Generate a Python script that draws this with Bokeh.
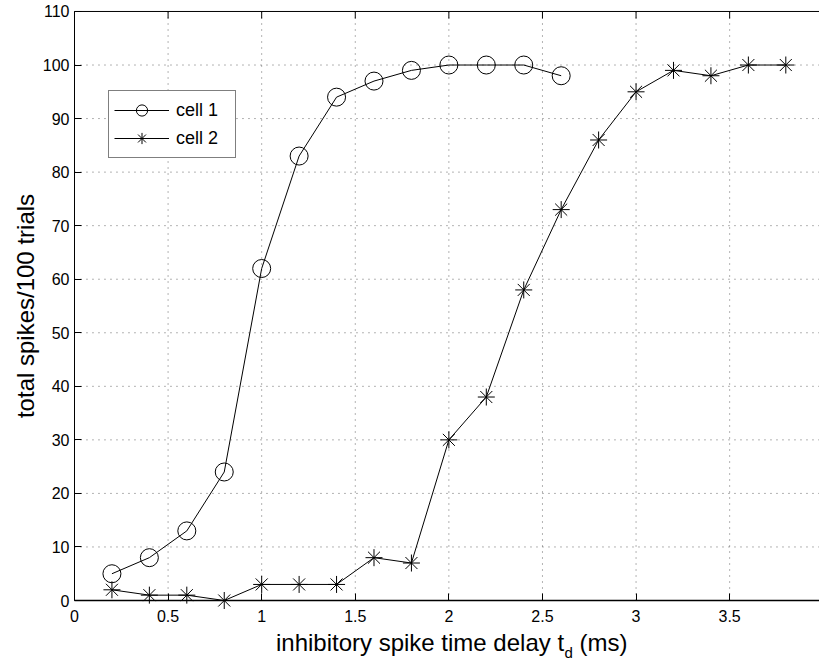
import math
from bokeh.plotting import figure
from bokeh.models import FixedTicker, Range1d, Legend, LegendItem, Label
from bokeh.embed import file_html
from bokeh.resources import INLINE

# ---- data ----
cell1_x = [0.2, 0.4, 0.6, 0.8, 1.0, 1.2, 1.4, 1.6, 1.8, 2.0, 2.2, 2.4, 2.6]
cell1_y = [5, 8, 13, 24, 62, 83, 94, 97, 99, 100, 100, 100, 98]
cell2_x = [0.2, 0.4, 0.6, 0.8, 1.0, 1.2, 1.4, 1.6, 1.8, 2.0, 2.2, 2.4, 2.6, 2.8,
           3.0, 3.2, 3.4, 3.6, 3.8]
cell2_y = [2, 1, 1, 0, 3, 3, 3, 8, 7, 30, 38, 58, 73, 86, 95, 99, 98, 100, 100]
series_names = ["cell 1", "cell 2"]
x_ticks = [0, 0.5, 1, 1.5, 2, 2.5, 3, 3.5, 4]
x_tick_labels = ["0", "0.5", "1", "1.5", "2", "2.5", "3", "3.5", "4"]
y_ticks = [0, 10, 20, 30, 40, 50, 60, 70, 80, 90, 100, 110]
x_label_main = "inhibitory spike time delay t"
x_label_sub = "d"
x_label_unit = "(ms)"
y_label = "total spikes/100 trials"

FONT = "Liberation Sans"
X_MIN, X_MAX = x_ticks[0], x_ticks[-1]
Y_MIN, Y_MAX = y_ticks[0], y_ticks[-1]

# The frame covers the whole canvas; axes are pinned at x=0 / y=0,
# so axis texts are never clipped.
p = figure(width=819, height=661, output_backend="svg", toolbar_location=None,
           x_range=Range1d(-0.3953, 3.98), y_range=Range1d(-11.39, 112.05),
           min_border_left=0, min_border_right=0, min_border_top=0,
           min_border_bottom=0)
p.outline_line_color = None
p.background_fill_color = "white"
p.border_fill_color = "white"

# axes
xax = p.xaxis[0]
xax.ticker = FixedTicker(ticks=x_ticks)
xax.major_label_overrides = {t: l for t, l in zip(x_ticks, x_tick_labels)}
xax.fixed_location = Y_MIN
xax.bounds = (X_MIN, X_MAX)
yax = p.yaxis[0]
yax.ticker = FixedTicker(ticks=y_ticks)
yax.fixed_location = X_MIN
yax.bounds = (Y_MIN, Y_MAX)
for ax in (xax, yax):
    ax.major_tick_in = 7
    ax.major_tick_out = 0
    ax.minor_tick_line_color = None
    ax.major_tick_line_color = "black"
    ax.axis_line_color = "black"
    ax.axis_line_width = 1
    ax.major_label_text_font = FONT
    ax.major_label_text_font_size = "16px"
    ax.major_label_text_color = "black"
    ax.major_label_standoff = 5
xax.axis_line_width = 1.5
xax.major_label_standoff = 9

# top box edge with inward ticks (MATLAB style)
TICK_LEN = 7 / 5.3548  # 7 px in data units
p.segment(x0=[X_MIN], y0=[Y_MAX], x1=[X_MAX], y1=[Y_MAX], line_color="black",
          line_width=1)
p.segment(x0=x_ticks, y0=[Y_MAX] * len(x_ticks), x1=x_ticks,
          y1=[Y_MAX - TICK_LEN] * len(x_ticks), line_color="black", line_width=1)

# grid (dotted)
GRID = dict(line_color="black", line_alpha=0.6, line_dash="1 5", line_width=1)
p.xgrid.visible = False
p.ygrid.visible = False
gx = [t for t in x_ticks if t > X_MIN]
p.segment(x0=gx, y0=[Y_MIN] * len(gx), x1=gx, y1=[Y_MAX] * len(gx), **GRID)
gy = [t for t in y_ticks if Y_MIN < t < Y_MAX]
p.segment(x0=[X_MIN] * len(gy), y0=gy, x1=[X_MAX] * len(gy), y1=gy, **GRID)

# series
l1 = p.line(cell1_x, cell1_y, line_color="black", line_width=1)
s1 = p.scatter(cell1_x, cell1_y, marker="circle", size=18, fill_color=None,
               line_color="black", line_width=1)
l2 = p.line(cell2_x, cell2_y, line_color="black", line_width=1)
s2 = p.scatter(cell2_x, cell2_y, marker="asterisk", size=17,
               line_color="black", line_width=1)

legend = Legend(items=[LegendItem(label=series_names[0], renderers=[l1, s1]),
                       LegendItem(label=series_names[1], renderers=[l2, s2])],
                location=(108, 503), border_line_color="black", border_line_width=1,
                background_fill_color="white", background_fill_alpha=1,
                label_text_font=FONT, label_text_font_size="18px",
                label_text_color="black",
                glyph_width=55, glyph_height=28, spacing=0, padding=5,
                label_standoff=7, label_width=54, margin=0)
p.add_layout(legend)

# axis labels
LBL = dict(text_font=FONT, text_color="black")
p.add_layout(Label(x=-0.262, y=(Y_MIN + Y_MAX) / 2, text=y_label, angle=math.pi / 2,
                   text_align="center", text_baseline="middle",
                   text_font_size="24px", **LBL))
p.add_layout(Label(x=2.6155, y=-7.84, text=x_label_main, text_align="right",
                   text_baseline="alphabetic", text_font_size="24px", **LBL))
p.add_layout(Label(x=2.6176, y=-9.71, text=x_label_sub, text_align="left",
                   text_baseline="alphabetic", text_font_size="15px", **LBL))
p.add_layout(Label(x=2.698, y=-7.84, text=x_label_unit, text_align="left",
                   text_baseline="alphabetic", text_font_size="24px", **LBL))

open("out.html", "w").write(file_html(p, INLINE))
